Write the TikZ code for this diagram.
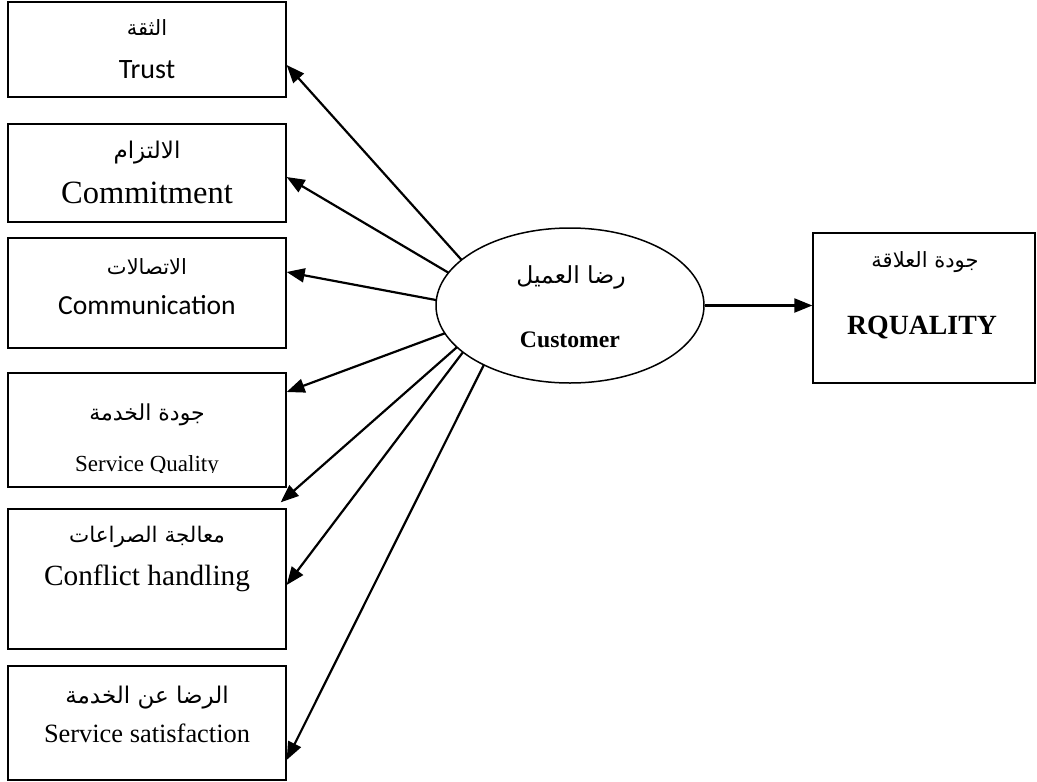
\documentclass[tikz,border=0pt]{standalone}
\usepackage{fontspec}
\usetikzlibrary{arrows.meta,shapes.geometric,calc}
\TeXXeTstate=1
\setmainfont{Liberation Serif}
\newfontfamily\arfont[Script=Arabic]{DejaVu Sans}
\newfontfamily\calibrifont{Carlito}
\newcommand{\arsize}[1]{\arfont\fontsize{#1}{#1}\selectfont}
\tikzset{
  box/.style={draw, line width=1.3pt, inner sep=0pt, minimum width=278pt},
  lbl/.style={inner sep=0pt, anchor=center},
  link/.style={line width=2.2pt, -{Triangle[length=18pt,width=14pt]}},
}
\begin{document}
\begin{tikzpicture}[x=1pt,y=-1pt]
  \useasboundingbox (0,0) rectangle (1037,782);
  % left column of factors
  \node[box, minimum height=95pt]  (trust) at (147,49.5) {};
  \node[box, minimum height=98pt]  (commit) at (147,173) {};
  \node[box, minimum height=110pt] (comm) at (147,293) {};
  \node[box, minimum height=114pt] (servq) at (147,430) {};
  \node[box, minimum height=140pt] (conf) at (147,579) {};
  \node[box, minimum height=114pt] (sats) at (147,723) {};
  % central construct and outcome
  \node[draw, ellipse, line width=1.5pt, inner sep=0pt, minimum width=268pt, minimum height=155pt] (cust) at (570,305.5) {};
  \node[box, minimum width=222pt, minimum height=150pt] (rq) at (924,308) {};

  % labels
  \node[lbl] (trustAr) at (147,28) {\arsize{21}\beginR الثقة\endR};
  \node[lbl] (trustEn) at (147,70) {\calibrifont\fontsize{28}{30}\selectfont Trust};
  \node[lbl] (commitAr) at (147,153) {\arsize{23}\beginR الالتزام\endR};
  \node[lbl] (commitEn) at (147,193) {\fontsize{32.5}{34}\selectfont Commitment};
  \node[lbl] (commAr) at (147,267) {\arsize{21}\beginR الاتصالات\endR};
  \node[lbl] (commEn) at (147,305) {\calibrifont\fontsize{27.6}{30}\selectfont Communication};
  \node[lbl] (servqAr) at (147,415) {\arsize{22}\beginR جودة الخدمة\endR};
  \begin{scope}
    % the English line of this box is cut off at its baseline
    \clip (50,440) rectangle (245,472);
    \node[lbl] (servqEn) at (147,466) {\fontsize{23}{25}\selectfont Service Quality};
  \end{scope}
  \node[lbl] (confAr) at (147,537) {\arsize{21.5}\beginR معالجة الصراعات\endR};
  \node[lbl] (confEn) at (147,578) {\fontsize{29.3}{31}\selectfont Conflict handling};
  \node[lbl] (satsAr) at (147,698) {\arsize{23}\beginR الرضا عن الخدمة\endR};
  \node[lbl] (satsEn) at (147,733) {\fontsize{26.4}{28}\selectfont Service satisfaction};
  \node[lbl] (custAr) at (571,277) {\arsize{23.5}\beginR رضا العميل\endR};
  \node[lbl] (custEn) at (570,340) {\fontsize{23.7}{25}\selectfont\bfseries Customer};
  \node[lbl] (rqAr) at (925,262) {\arsize{21}\beginR جودة العلاقة\endR};
  \node[lbl] (rqEn) at (922,328) {\fontsize{27.8}{30}\selectfont\bfseries RQUALITY};

  % start points on the ellipse rim
  \coordinate (s1) at ($(cust.center)+(144:134pt and 77.5pt)$);
  \coordinate (s2) at ($(cust.center)+(155:134pt and 77.5pt)$);
  \coordinate (s3) at ($(cust.center)+(176:134pt and 77.5pt)$);
  \coordinate (s4) at ($(cust.center)+(201:134pt and 77.5pt)$);
  \coordinate (s5) at ($(cust.center)+(212.5:134pt and 77.5pt)$);
  \coordinate (s6) at ($(cust.center)+(217:134pt and 77.5pt)$);
  \coordinate (s7) at ($(cust.center)+(230:134pt and 77.5pt)$);
  % free end just above the conflict-handling box
  \coordinate (e5) at ($(conf.north east)+(-6pt,6pt)$);

  \draw[link] (s1) -- ([yshift=-15.5pt]trust.east);
  \draw[link] (s2) -- ([yshift=-4pt]commit.east);
  \draw[link] (s3) -- ([yshift=21pt]comm.east);
  \draw[link] (s4) -- ([yshift=38pt]servq.east);
  \draw[link] (s5) -- (e5);
  \draw[link] (s6) -- ([yshift=-6pt]conf.east);
  \draw[link] (s7) -- ([yshift=-37pt]sats.east);
  \draw[link] (cust.east) -- (cust.east -| rq.west);
\end{tikzpicture}
\end{document}
